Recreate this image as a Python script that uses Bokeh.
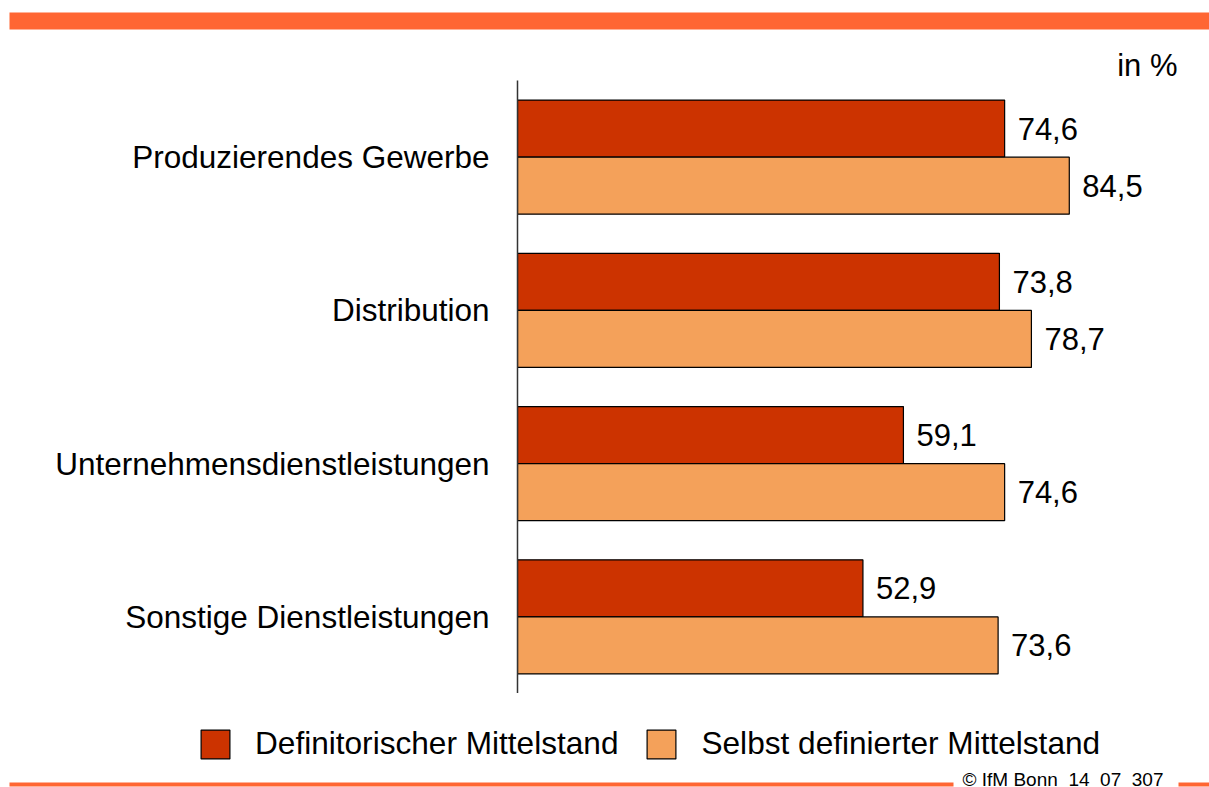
from bokeh.plotting import figure
from bokeh.layouts import column
from bokeh.models import (FactorRange, Range1d, Legend, LegendItem, ColumnDataSource, Title)
from bokeh.transform import dodge
from bokeh.core.properties import value
from bokeh.embed import file_html
from bokeh.resources import INLINE

# ---- data ----
categories = ["Produzierendes Gewerbe", "Distribution",
              "Unternehmensdienstleistungen", "Sonstige Dienstleistungen"]
definitorisch = [74.6, 73.8, 59.1, 52.9]
selbst_definiert = [84.5, 78.7, 74.6, 73.6]
series_names = ["Definitorischer Mittelstand", "Selbst definierter Mittelstand"]
unit_label = "in %"
footer_text = "\u00a9 IfM Bonn_14_07_307"


def fmt(v):
    return f"{v:.1f}".replace(".", ",")


FONT = "Liberation Sans"
DARK = "#CC3300"
LIGHT = "#F4A15A"
ACCENT = "#FF6633"

W = 1209
TOP_H, TITLE_H, FRAME_H, BOT_H = 40, 40, 613, 94


def blank(height, ypix):
    f = figure(width=W, height=height, output_backend="svg", toolbar_location=None,
               x_range=Range1d(0, W), y_range=Range1d(ypix, 0),
               min_border=0, min_border_left=0, min_border_right=0,
               min_border_top=0, min_border_bottom=0)
    f.axis.visible = False
    f.grid.visible = False
    f.outline_line_color = None
    f.frame_align = False
    return f


# ---- top strip ----
top = blank(TOP_H, TOP_H)
top.quad(left=[9], right=[W], top=[12], bottom=[29], fill_color=ACCENT, line_color=None)

# ---- main chart ----
X_LEFT = 517
k = 6.53  # px per percent
p = figure(width=W, height=TITLE_H + FRAME_H, output_backend="svg", toolbar_location=None,
           y_range=FactorRange(factors=list(reversed(categories)), range_padding=0),
           x_range=Range1d(0, (W - X_LEFT) / k),
           min_border_left=X_LEFT, min_border_right=0,
           min_border_top=TITLE_H, min_border_bottom=0)
p.frame_align = False
ttl = Title(text=unit_label, align="right", offset=32, standoff=0,
            text_font=FONT, text_font_size="31px", text_font_style="normal",
            text_color="black")
try:
    ttl.standoff = -5
except Exception:
    ttl.standoff = 0
p.title = ttl
p.xaxis.visible = False
p.xgrid.visible = False
p.ygrid.visible = False
p.outline_line_color = None

src = ColumnDataSource(dict(cat=categories, a=definitorisch, b=selbst_definiert,
                            la=[fmt(v) for v in definitorisch],
                            lb=[fmt(v) for v in selbst_definiert]))
bh = 0.372
p.hbar(y=dodge("cat", bh / 2, range=p.y_range), right="a", left=0, height=bh,
       source=src, fill_color=DARK, line_color="black", line_width=1.2)
p.hbar(y=dodge("cat", -bh / 2, range=p.y_range), right="b", left=0, height=bh,
       source=src, fill_color=LIGHT, line_color="black", line_width=1.2)
p.text(x="a", y=dodge("cat", bh / 2, range=p.y_range), text="la", source=src,
       x_offset=13, text_baseline="middle", text_font=value(FONT),
       text_font_size="31px", text_color="black")
p.text(x="b", y=dodge("cat", -bh / 2, range=p.y_range), text="lb", source=src,
       x_offset=13, text_baseline="middle", text_font=value(FONT),
       text_font_size="31px", text_color="black")

ax = p.yaxis[0]
ax.major_label_text_font = FONT
ax.major_label_text_font_size = "31.5px"
ax.major_label_text_color = "black"
ax.major_tick_line_color = None
ax.minor_tick_line_color = None
ax.major_label_standoff = 22
ax.axis_line_color = "#333333"
ax.axis_line_width = 1.5

# ---- bottom: legend and footer ----
bot = blank(BOT_H, BOT_H)
hidden = ColumnDataSource(dict(y=[5000], l=[600], r=[601]))
g1 = bot.hbar(y="y", left="l", right="r", height=1, source=hidden, fill_color=DARK,
              line_color="black", line_width=1.2)
g2 = bot.hbar(y="y", left="l", right="r", height=1, source=hidden, fill_color=LIGHT,
              line_color="black", line_width=1.2)
legend = Legend(items=[LegendItem(label=series_names[0], renderers=[g1]),
                       LegendItem(label=series_names[1], renderers=[g2])],
                orientation="horizontal", location=(197, 25),
                label_text_font=FONT, label_text_font_size="31.6px",
                label_text_color="black",
                glyph_width=36, glyph_height=36, label_height=29,
                label_standoff=22, spacing=25, padding=0, margin=0,
                border_line_color=None, background_fill_alpha=0)
bot.add_layout(legend, "center")
bot.quad(left=[9, 1178], right=[953, W], top=[89, 89], bottom=[93, 93],
         fill_color=ACCENT, line_color=None)
bot.text(x=[962], y=[86], text=[footer_text], text_align="left",
         text_baseline="alphabetic", text_font=value(FONT), text_font_size="19px",
         text_color="black")

layout = column(top, p, bot, spacing=0)
open("out.html", "w").write(file_html(layout, INLINE))
